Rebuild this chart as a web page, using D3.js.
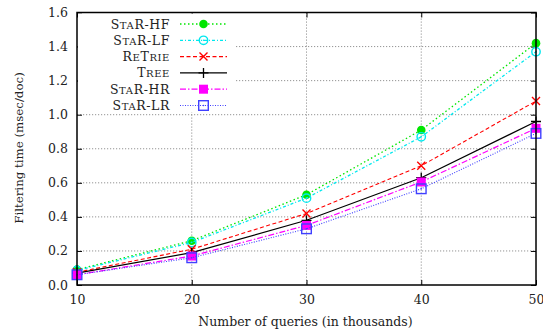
<!DOCTYPE html>
<html>
<head>
<meta charset="utf-8">
<script src="https://cdn.jsdelivr.net/npm/d3@7"></script>
<style>
  body { margin: 0; background: #fff; }
  text { font-family: "DejaVu Serif", serif; fill: #222; }
</style>
</head>
<body>
<div class="chart"></div>
<script>
var svgWidth = 543;
var svgHeight = 329;

var margin = { top: 12.5, right: 7, bottom: 44, left: 77 };
var width = svgWidth - margin.left - margin.right;
var height = svgHeight - margin.top - margin.bottom;

// data
var queries = [10, 20, 30, 40, 50];
var starHF = [0.09, 0.26, 0.53, 0.91, 1.42];
var starLF = [0.085, 0.25, 0.51, 0.87, 1.37];
var retrie = [0.075, 0.21, 0.42, 0.70, 1.08];
var tree = [0.07, 0.19, 0.38, 0.63, 0.96];
var starHR = [0.06, 0.17, 0.35, 0.605, 0.92];
var starLR = [0.06, 0.16, 0.33, 0.565, 0.89];
var yTicks = [0, 0.2, 0.4, 0.6, 0.8, 1.0, 1.2, 1.4, 1.6];

var series = [
  { name: ["S", "ta", "R-HF"], values: starHF, color: "#00e600", dash: "1.5,2.5", marker: "dot", width: 1.3 },
  { name: ["S", "ta", "R-LF"], values: starLF, color: "#00e8ee", dash: "3,2,1,2", marker: "circle", width: 1.3 },
  { name: ["R", "e", "T", "rie"], values: retrie, color: "#f00", dash: "4,2.5", marker: "cross", width: 1.1 },
  { name: ["T", "ree"], values: tree, color: "#000", dash: null, marker: "plus", width: 1.2 },
  { name: ["S", "ta", "R-HR"], values: starHR, color: "#f0f", dash: "6,2,1.5,2", marker: "square", width: 1.2 },
  { name: ["S", "ta", "R-LR"], values: starLR, color: "#4040ff", dash: "1,1.5", marker: "box", width: 1.1 }
];

var svg = d3.select(".chart").append("svg")
  .attr("width", svgWidth)
  .attr("height", svgHeight);

var chartGroup = svg.append("g")
  .attr("transform", `translate(${margin.left}, ${margin.top})`);

var x = d3.scaleLinear().domain([10, 50]).range([0, width]);
var y = d3.scaleLinear().domain([0, 1.6]).range([height, 0]);

// grid
chartGroup.append("g").selectAll("line.gy")
  .data(yTicks.slice(1, -1))
  .enter().append("line")
  .attr("x1", 0).attr("x2", width)
  .attr("y1", d => y(d)).attr("y2", d => y(d))
  .attr("stroke", "#888").attr("stroke-width", 0.9).attr("stroke-dasharray", "1.2,1.8");

chartGroup.append("g").selectAll("line.gx")
  .data(queries.slice(1, -1))
  .enter().append("line")
  .attr("x1", d => x(d)).attr("x2", d => x(d))
  .attr("y1", 0).attr("y2", height)
  .attr("stroke", "#888").attr("stroke-width", 0.9).attr("stroke-dasharray", "1.2,1.8");

// axes (gnuplot style, inward mirrored ticks)
var leftAxis = d3.axisLeft(y).tickValues(yTicks).tickFormat(d3.format(".1f")).tickSize(-5).tickPadding(9);
var rightAxis = d3.axisRight(y).tickValues(yTicks).tickFormat("").tickSize(-5);
var bottomAxis = d3.axisBottom(x).tickValues(queries).tickSize(-5).tickPadding(10);
var topAxis = d3.axisTop(x).tickValues(queries).tickFormat("").tickSize(-5);

function styleAxis(g) {
  g.select(".domain").remove();
  g.selectAll("line").attr("stroke", "#000");
  g.selectAll("text").attr("font-size", "12.5px")
    .attr("font-family", "'DejaVu Serif', serif").attr("fill", "#222");
}

chartGroup.append("g").call(leftAxis).call(styleAxis);
chartGroup.append("g").attr("transform", `translate(${width},0)`).call(rightAxis).call(styleAxis);
chartGroup.append("g").attr("transform", `translate(0,${height})`).call(bottomAxis).call(styleAxis);
chartGroup.append("g").call(topAxis).call(styleAxis);

// legend background (covers grid)
var legend = chartGroup.append("g");
legend.append("rect")
  .attr("x", 1).attr("y", 1)
  .attr("width", 158).attr("height", 99)
  .attr("fill", "#fff");

// lines
var line = d3.line()
  .x((d, i) => x(queries[i]))
  .y(d => y(d));

function drawMarker(g, type, cx, cy, color) {
  if (type === "dot") {
    g.append("circle").attr("cx", cx).attr("cy", cy).attr("r", 4.3).attr("fill", color);
  } else if (type === "circle") {
    g.append("circle").attr("cx", cx).attr("cy", cy).attr("r", 4.2)
      .attr("fill", "none").attr("stroke", color).attr("stroke-width", 1.4);
    g.append("circle").attr("cx", cx).attr("cy", cy).attr("r", 0.8).attr("fill", color);
  } else if (type === "cross") {
    g.append("path").attr("d", `M${cx - 4},${cy - 4}L${cx + 4},${cy + 4}M${cx - 4},${cy + 4}L${cx + 4},${cy - 4}`)
      .attr("stroke", color).attr("stroke-width", 1.4);
  } else if (type === "plus") {
    g.append("path").attr("d", `M${cx - 5},${cy}L${cx + 5},${cy}M${cx},${cy - 5}L${cx},${cy + 5}`)
      .attr("stroke", color).attr("stroke-width", 1.3);
  } else if (type === "square") {
    g.append("rect").attr("x", cx - 4.5).attr("y", cy - 4.5).attr("width", 9).attr("height", 9).attr("fill", color);
  } else if (type === "box") {
    g.append("rect").attr("x", cx - 4.8).attr("y", cy - 4.8).attr("width", 9.6).attr("height", 9.6)
      .attr("fill", "none").attr("stroke", color).attr("stroke-width", 1.4);
    g.append("circle").attr("cx", cx).attr("cy", cy).attr("r", 0.8).attr("fill", color);
  }
}

series.forEach(function(s) {
  var g = chartGroup.append("g");
  g.append("path")
    .datum(s.values)
    .attr("d", line)
    .attr("fill", "none")
    .attr("stroke", s.color)
    .attr("stroke-width", s.width)
    .attr("stroke-dasharray", s.dash);
  s.values.forEach(function(v, i) {
    drawMarker(g, s.marker, x(queries[i]), y(v), s.color);
  });
});

// legend entries (small caps by hand)
series.forEach(function(s, i) {
  var ly = 11.5 + i * 16.3;
  var t = legend.append("text")
    .attr("x", 93).attr("y", ly).attr("dy", "0.36em")
    .attr("text-anchor", "end")
    .attr("letter-spacing", "0.6px")
    .attr("font-size", "12.5px");
  s.name.forEach(function(part, j) {
    var small = part === part.toLowerCase() && /[a-z]/.test(part);
    t.append("tspan")
      .attr("font-size", small ? "10px" : "12.5px")
      .text(small ? part.toUpperCase() : part);
  });
  legend.append("line")
    .attr("x1", 103).attr("x2", 150)
    .attr("y1", ly).attr("y2", ly)
    .attr("stroke", s.color)
    .attr("stroke-width", s.width)
    .attr("stroke-dasharray", s.dash);
  drawMarker(legend, s.marker, 126.5, ly, s.color);
});

// frame
chartGroup.append("rect")
  .attr("width", width).attr("height", height)
  .attr("fill", "none").attr("stroke", "#000").attr("stroke-width", 1.5);

// axis labels
svg.append("text")
  .attr("x", margin.left + width / 2 - 1).attr("y", 326)
  .attr("text-anchor", "middle").attr("font-size", "12.5px")
  .text("Number of queries (in thousands)");

svg.append("text")
  .attr("transform", "rotate(-90)")
  .attr("x", -148).attr("y", 23)
  .attr("text-anchor", "middle").attr("font-size", "11.8px")
  .text("Filtering time (msec/doc)");
</script>
</body>
</html>
